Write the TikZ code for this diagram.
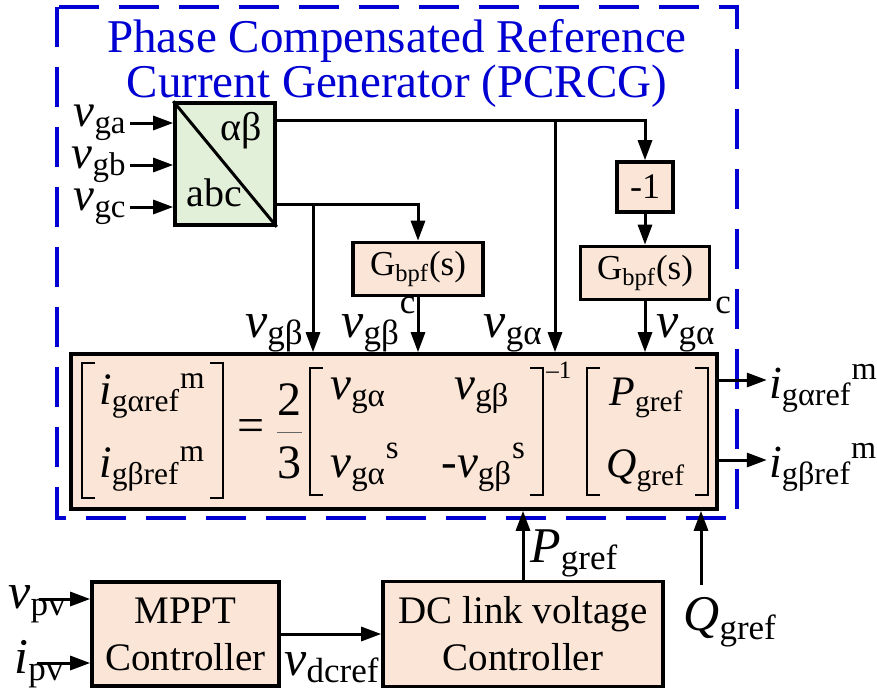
\documentclass[tikz,border=0pt]{standalone}
\usepackage{amsmath}
\usepackage{fontspec}
\setmainfont{Liberation Serif}
\usepackage{tikz}
\usetikzlibrary{positioning, arrows.meta}
\definecolor{pcblue}{RGB}{0,0,210}
\definecolor{pesseg}{RGB}{251,229,214}
\definecolor{verdec}{RGB}{226,240,217}
\newcommand{\supc}{{}^{\text{\raisebox{2.5pt}{c}}}}

\begin{document}
\begin{tikzpicture}[x=0.5pt, y=-0.5pt,
  bloco/.style={draw, line width=1.8pt, fill=pesseg, inner sep=0pt},
  sinal/.style={line width=1.5pt, -{Triangle[length=10pt, width=7pt]}},
  rot/.style={inner sep=0pt, font=\fontsize{25}{26}\selectfont},
  termo/.style={inner sep=0pt, anchor=base west, font=\fontsize{23.5}{24}\selectfont},
  colch/.style={line width=1pt}]

\useasboundingbox (0,0) rectangle (877,697);

% Moldura do PCRCG
\draw[pcblue, line width=2pt, dash pattern=on 20pt off 10pt] (57,7) rectangle (737,518);
\node[text=pcblue, align=center, anchor=north, inner sep=0pt, font=\fontsize{23.5}{20}\selectfont] (titulo) at (397,19) {Phase Compensated Reference\\Current Generator (PCRCG)};

% Transformada abc/alfa-beta
\node[bloco, fill=verdec, minimum width=50pt, minimum height=61pt] (conv) at (225,164) {};
\draw[line width=1.5pt] (conv.north west) -- (conv.south east);
\node[inner sep=0pt, font=\fontsize{20}{22}\selectfont] (ab) at (241,131) {αβ};
\node[inner sep=0pt, font=\fontsize{20}{22}\selectfont] (abc) at (214,193) {abc};

% Blocos
\node[bloco, minimum width=28pt, minimum height=25pt, font=\fontsize{18}{20}\selectfont] (neg) at (645,187) {-1};
\node[bloco, minimum width=64.5pt, minimum height=26.5pt, font=\fontsize{17.5}{20}\selectfont] (bpfa) at (645,273) {$\text{G}_{\text{bpf}}\text{(s)}$};
\node[bloco, minimum width=65pt, minimum height=26.5pt, font=\fontsize{17.5}{20}\selectfont] (bpfb) at (418,269) {$\text{G}_{\text{bpf}}\text{(s)}$};
\node[bloco, minimum width=323pt, minimum height=77.5pt] (princ) at (394,431.5) {};

% Equacao do gerador
\foreach \xa/\xb/\ya/\yb in {82/223/363/498, 310/543/368/495, 587/708/368/495}{
  \draw[colch] (\xa+13,\ya) -- (\xa,\ya) -- (\xa,\yb) -- (\xa+13,\yb);
  \draw[colch] (\xb-13,\ya) -- (\xb,\ya) -- (\xb,\yb) -- (\xb-13,\yb);
}
\node[termo, font=\fontsize{22.5}{24}\selectfont] (ia) at (99,404) {$\textit{i}_{\text{gαref}}{}^{\text{m}}$};
\node[termo, font=\fontsize{22.5}{24}\selectfont] (ib) at (99,477) {$\textit{i}_{\text{gβref}}{}^{\text{m}}$};
\node[termo, anchor=center, font=\fontsize{24}{24}\selectfont] (igual) at (251,431) {=};
\node[termo, anchor=base, font=\fontsize{24}{24}\selectfont] (dois) at (289.5,415) {2};
\node[termo, anchor=base, font=\fontsize{24}{24}\selectfont] (tres) at (289.5,478) {3};
\draw[line width=0.5pt, black!60] (277,432) -- (302,432);
\node[termo] (m11) at (330,399) {$\textit{v}_{\text{gα}}$};
\node[termo] (m12) at (454,399) {$\textit{v}_{\text{gβ}}$};
\node[termo] (m21) at (330,477) {$\textit{v}_{\text{gα}}{}^{\text{s}}$};
\node[termo] (m22) at (441,477) {$\text{-}\textit{v}_{\text{gβ}}{}^{\text{s}}$};
\node[termo, font=\fontsize{12.5}{14}\selectfont] (inv) at (546,378) {–1};
\node[termo, font=\fontsize{21}{24}\selectfont] (pg1) at (609,405) {$\textit{P}_{\text{gref}}$};
\node[termo, font=\fontsize{21}{24}\selectfont] (qg1) at (606,477) {$\textit{Q}_{\text{gref}}$};

% Entradas
\foreach \f/\yy in {a/123, b/165, c/207}{
  \node[rot, anchor=east, font=\fontsize{23.5}{24}\selectfont] (vg\f) at (127,\yy) {$\textit{v}_{\text{g\f}}$};
  \draw[sinal] ([xshift=1.5pt]vg\f.east) -- (vg\f.east -| conv.west);
}

% Saidas alfa e beta
\coordinate (sa) at ([yshift=-9.5pt]conv.north east);
\coordinate (sb) at ([yshift=11pt]conv.south east);
\coordinate (ja) at (555,0 |- sa);
\coordinate (jb) at (313,0 |- sb);
\draw[sinal] (sa) -| (neg.north);
\draw[sinal] (ja) -- (ja |- princ.north);
\draw[sinal] (neg) -- (bpfa);
\draw[sinal] (bpfa) -- (bpfa |- princ.north);
\draw[sinal] (sb) -| (bpfb.north);
\draw[sinal] (jb) -- (jb |- princ.north);
\draw[sinal] (bpfb) -- (bpfb |- princ.north);

\node[rot, anchor=base east] (lb1) at (304,337) {$\textit{v}_{\text{gβ}}$};
\node[rot, anchor=base west] (lb2) at (341,337) {$\textit{v}_{\text{gβ}}\supc$};
\node[rot, anchor=base east] (la1) at (543,337) {$\textit{v}_{\text{gα}}$};
\node[rot, anchor=base west] (la2) at (656,337) {$\textit{v}_{\text{gα}}\supc$};

% Correntes de referencia
\coordinate (oa) at ([yshift=25.75pt]princ.east);
\coordinate (ob) at ([yshift=-14.25pt]princ.east);
\draw[sinal] (oa) -- ++(48,0) coordinate (oa2);
\draw[sinal] (ob) -- ++(48,0) coordinate (ob2);
\node[rot, anchor=base west, font=\fontsize{23}{25}\selectfont] (iga) at ([xshift=1pt, yshift=-9pt]oa2) {$\textit{i}_{\text{gαref}}{}^{\text{m}}$};
\node[rot, anchor=base west, font=\fontsize{23}{25}\selectfont] (igb) at ([xshift=1pt, yshift=-8.5pt]ob2) {$\textit{i}_{\text{gβref}}{}^{\text{m}}$};

% Controladores
\node[bloco, minimum width=93.5pt, minimum height=52pt, align=center, font=\fontsize{19.5}{23.5}\selectfont] (mppt) at (185.5,634) {MPPT\\Controller};
\node[bloco, minimum width=140pt, minimum height=52.5pt, align=center, font=\fontsize{19.5}{23.5}\selectfont] (dclink) at (523,634) {DC link voltage\\Controller};

\node[rot, anchor=base west] (vpv) at (8,608) {$\textit{v}_{\text{pv}}$};
\node[rot, anchor=base west] (ipv) at (14,673) {$\textit{i}_{\text{pv}}$};
\coordinate (vin) at (39,599);
\coordinate (iin) at (37,663);
\draw[sinal] (vin) -- (vin -| mppt.west);
\draw[sinal] (iin) -- (iin -| mppt.west);

\draw[sinal] (mppt) -- (dclink);
\node[rot, anchor=base west] (vdc) at (284,675) {$\textit{v}_{\text{dcref}}$};

\draw[sinal] (dclink.north) -- (dclink.north |- princ.south);
\node[rot, anchor=base west] (pg) at (530,562) {$\textit{P}_{\text{gref}}$};
\coordinate (qin) at (701,585);
\draw[sinal] (qin) -- (qin |- princ.south);
\node[rot, anchor=base west] (qg) at (683,630) {$\textit{Q}_{\text{gref}}$};

\end{tikzpicture}
\end{document}
